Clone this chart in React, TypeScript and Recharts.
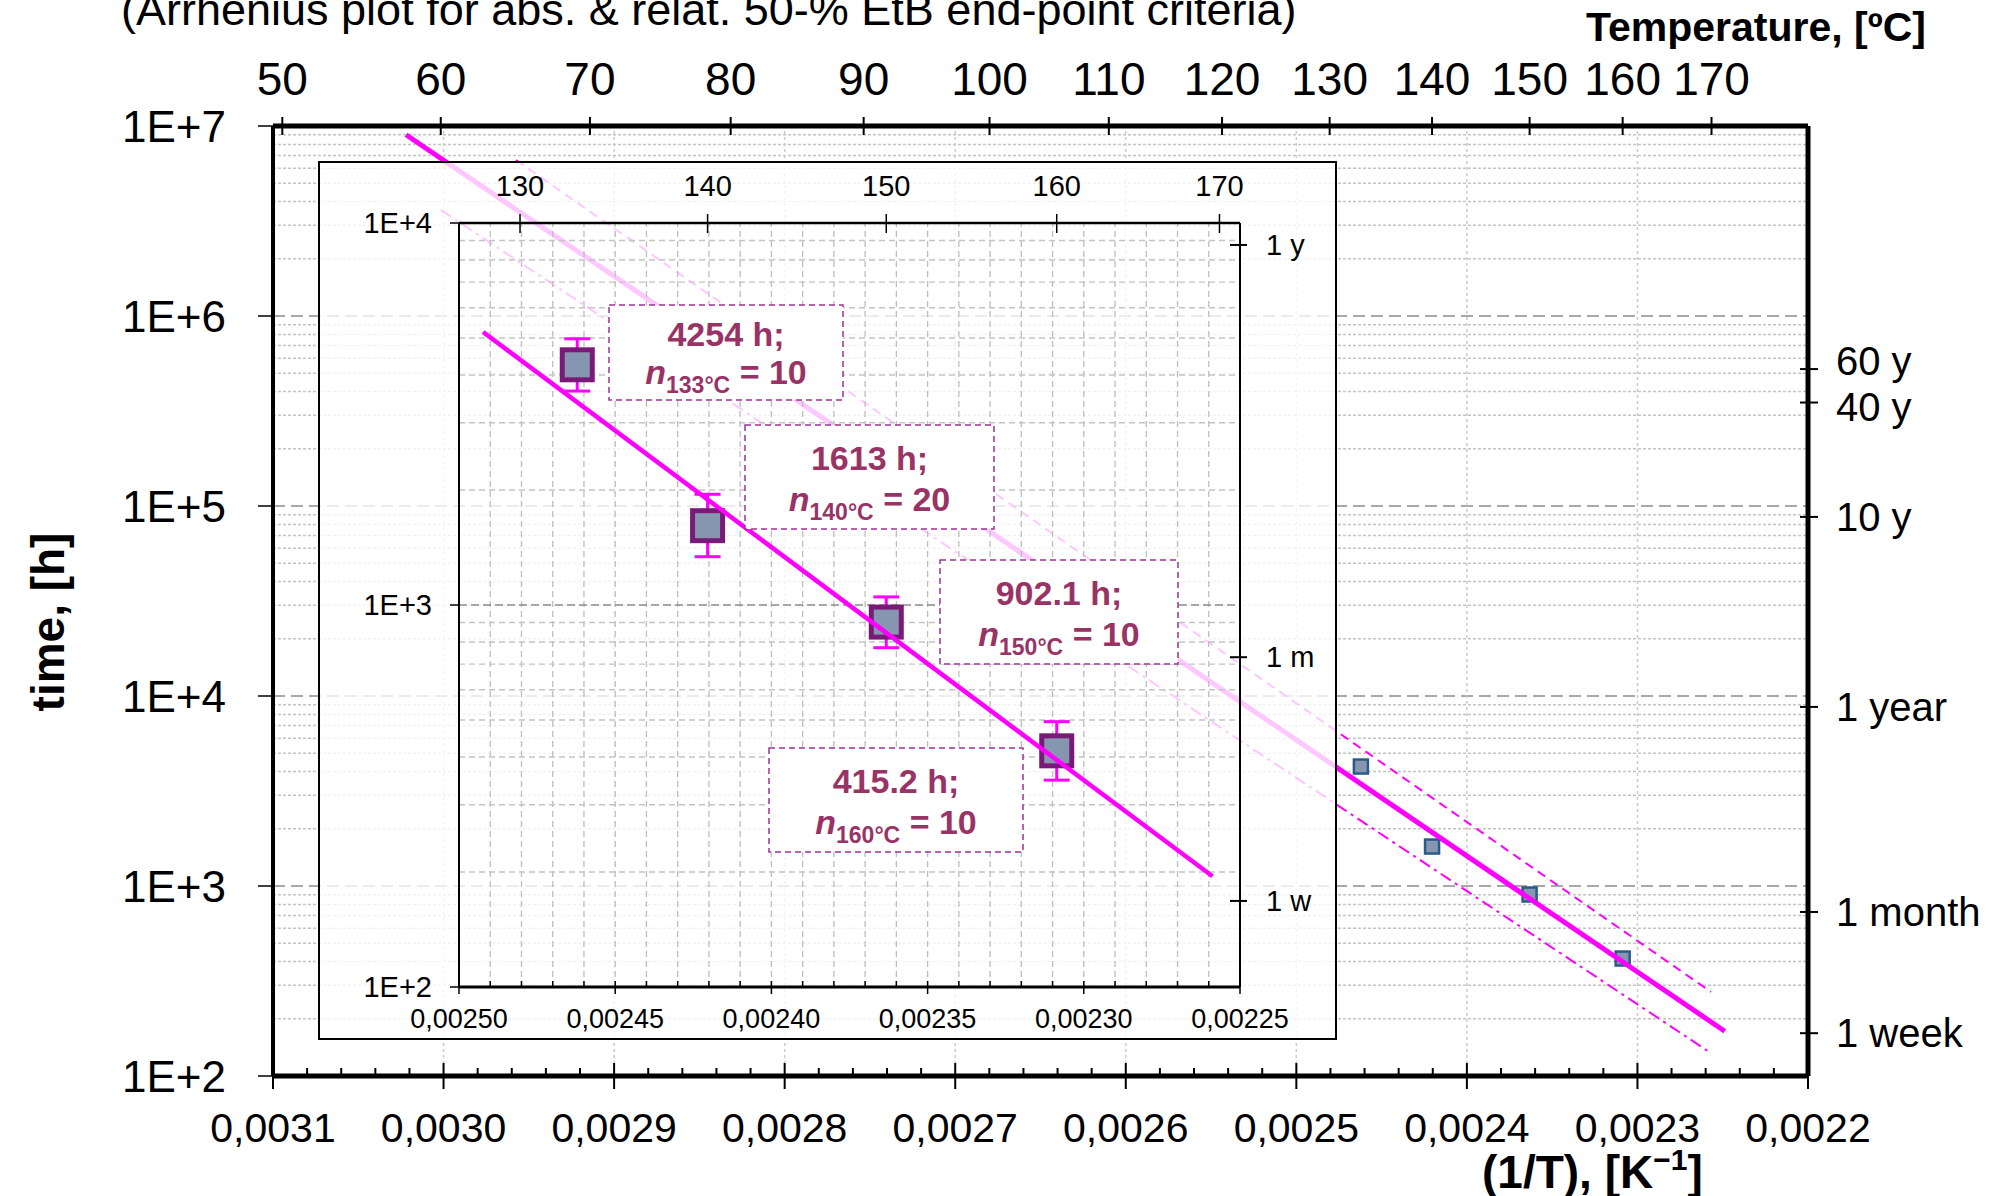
import React from 'react';
import {ComposedChart, Scatter, XAxis, YAxis, ReferenceLine, ErrorBar} from 'recharts';

const FONT = '"Liberation Sans", Arial, sans-serif';
const MAGENTA = '#FF00FF';
const NOTE = '#993366';

// main plot axes
const mainInvTTicks = [0.0031, 0.003, 0.0029, 0.0028, 0.0027, 0.0026, 0.0025, 0.0024, 0.0023, 0.0022];
const mainTempTicks = [50, 60, 70, 80, 90, 100, 110, 120, 130, 140, 150, 160, 170];
const mainDecades = [1e2, 1e3, 1e4, 1e5, 1e6, 1e7];
const lifeHours = [168, 730, 8760, 87600, 350400, 525600];
const lifeLabels = ['1 week', '1 month', '1 year', '10 y', '40 y', '60 y'];
const lifeLabelNudge = [0, 0, 0, 0, 4, -8];

// inset axes
const insetInvTTicks = [0.0025, 0.00245, 0.0024, 0.00235, 0.0023, 0.00225];
const insetTempTicks = [130, 140, 150, 160, 170];
const insetDecades = [1e2, 1e3, 1e4];
const insetLifeHours = [8760, 730, 168];
const insetLifeLabels = ['1 y', '1 m', '1 w'];

// measured end-point times
const testTemps = [133, 140, 150, 160];
const meanHours = [4254, 1613, 902.1, 415.2];
const upperHours = [4977, 1949, 1050, 495];
const lowerHours = [3631, 1338, 773, 348];
const sampleSizes = [10, 20, 10, 10];

// regression line + bands
const fitMain = [{x: 0.003022, y: 9.0e6}, {x: 0.0022488, y: 172}];
const bandUpper = [{x: 0.0029575, y: 6.62e6}, {x: 0.0022569, y: 277}];
const bandLower = [{x: 0.0030015, y: 3.61e6}, {x: 0.0022569, y: 132}];
const fitInset = [{x: 0.0024923, y: 5184}, {x: 0.0022588, y: 195}];

// annotation boxes (layout only)
const noteBoxes = [
    {x: 609, y: 305, w: 234, h: 95},
    {x: 745, y: 425, w: 249, h: 104},
    {x: 940, y: 560, w: 238, h: 104},
    {x: 769, y: 748, w: 254, h: 104},
];

const invT = (c: number) => 1 / (c + 273.15);
const isMult = (v: number, f: number) => Math.abs(v * f - Math.round(v * f)) < 1e-6;

const mainPoints = testTemps.map((t, i) => ({x: invT(t), y: meanHours[i]}));
const insetPoints = testTemps.map((t, i) => ({
    x: invT(t),
    y: meanHours[i],
    err: [meanHours[i] - lowerHours[i], upperHours[i] - meanHours[i]],
}));

const mainBottomTicks: number[] = [];
for (let k = 0; k <= 45; k++) mainBottomTicks.push(Math.round((0.0022 + k * 0.00002) * 1e7) / 1e7);
const insetBottomTicks: number[] = [];
for (let k = 0; k <= 25; k++) insetBottomTicks.push(Math.round((0.00225 + k * 0.00001) * 1e8) / 1e8);

const minorOf = (decades: number[]) =>
    decades.slice(0, -1).flatMap(d => [2, 3, 4, 5, 6, 7, 8, 9].map(m => d * m));

const NoShape = () => <g/>;
const SmallSquare = (p: any) => (
    <rect x={p.cx - 7} y={p.cy - 7} width={14} height={14} fill="#8796B0" stroke="#2A5A8A" strokeWidth={2.5}/>
);
const BigSquare = (p: any) => (
    <rect x={p.cx - 15} y={p.cy - 15} width={30} height={30} fill="#8796B0" stroke="#7A1A78" strokeWidth={5}/>
);

/* main axis ticks */
const MainBottomTick = ({x, y, payload}: any) => {
    const v = payload.value;
    const major = isMult(v, 1e4);
    return (
        <g>
            <line x1={x} x2={x} y1={major ? y - 13 : y - 8} y2={major ? y + 13 : y} stroke="#000" strokeWidth={2}/>
            {major && <text x={x} y={y + 66} textAnchor="middle" fontSize={41} fontFamily={FONT}>
                {v.toFixed(4).replace('.', ',')}</text>}
        </g>
    );
};
const MainTopTick = ({x, y, payload}: any) => (
    <g>
        <line x1={x} x2={x} y1={y - 9} y2={y + 9} stroke="#000" strokeWidth={2}/>
        <text x={x} y={y - 31} textAnchor="middle" fontSize={46} fontFamily={FONT}>
            {Math.round(1 / payload.value - 273.15)}</text>
    </g>
);
const MainLeftTick = ({x, y, payload}: any) => (
    <g>
        <line x1={x - 15} x2={x} y1={y} y2={y} stroke="#000" strokeWidth={1.5}/>
        <text x={x - 47} y={y + 16} textAnchor="end" fontSize={44} fontFamily={FONT}>
            {'1E+' + Math.round(Math.log10(payload.value))}</text>
    </g>
);
const MainRightTick = ({x, y, payload}: any) => {
    const i = lifeHours.indexOf(payload.value);
    return (
        <g>
            <line x1={x - 8} x2={x + 10} y1={y} y2={y} stroke="#000" strokeWidth={2}/>
            <text x={x + 28} y={y + 14 + lifeLabelNudge[i]} fontSize={40} fontFamily={FONT}>{lifeLabels[i]}</text>
        </g>
    );
};

/* inset axis ticks */
const InsetBottomTick = ({x, y, payload}: any) => {
    const v = payload.value;
    const major = isMult(v, 2e4);
    return (
        <g>
            <line x1={x} x2={x} y1={y - 6} y2={major ? y + 7 : y} stroke="#000" strokeWidth={1.5}/>
            {major && <text x={x} y={y + 41} textAnchor="middle" fontSize={27} fontFamily={FONT}>
                {v.toFixed(5).replace('.', ',')}</text>}
        </g>
    );
};
const InsetTopTick = ({x, y, payload}: any) => (
    <g>
        <line x1={x} x2={x} y1={y - 9} y2={y + 10} stroke="#000" strokeWidth={1.5}/>
        <text x={x} y={y - 27} textAnchor="middle" fontSize={29} fontFamily={FONT}>
            {Math.round(1 / payload.value - 273.15)}</text>
    </g>
);
const InsetLeftTick = ({x, y, payload}: any) => (
    <g>
        <line x1={x - 9} x2={x} y1={y} y2={y} stroke="#000" strokeWidth={1.5}/>
        <text x={x - 27} y={y + 10} textAnchor="end" fontSize={29} fontFamily={FONT}>
            {'1E+' + Math.round(Math.log10(payload.value))}</text>
    </g>
);
const InsetRightTick = ({x, y, payload}: any) => (
    <g>
        <line x1={x - 10} x2={x + 7} y1={y} y2={y} stroke="#000" strokeWidth={2}/>
        <text x={x + 26} y={y + 10} fontSize={29} fontFamily={FONT}>
            {insetLifeLabels[insetLifeHours.indexOf(payload.value)]}</text>
    </g>
);

const MainChart = () => (
    <ComposedChart width={2001} height={1196} margin={{top: 46, right: 43, bottom: 40, left: 173}}>
        <XAxis xAxisId="b" type="number" dataKey="x" domain={[0.0022, 0.0031]} reversed allowDataOverflow
               ticks={mainBottomTicks} interval={0} tickSize={0} tickMargin={0} height={80}
               axisLine={{stroke: '#000', strokeWidth: 5}} tick={<MainBottomTick/>}/>
        <XAxis xAxisId="t" orientation="top" type="number" dataKey="x" domain={[0.0022, 0.0031]} reversed
               allowDataOverflow ticks={mainTempTicks.map(invT)} interval={0} tickSize={0} tickMargin={0}
               height={80} axisLine={{stroke: '#000', strokeWidth: 5}} tick={<MainTopTick/>}/>
        <YAxis yAxisId="l" type="number" dataKey="y" scale="log" domain={[100, 1e7]} allowDataOverflow
               ticks={mainDecades} interval={0} tickSize={0} tickMargin={0} width={100}
               axisLine={{stroke: '#000', strokeWidth: 4}} tick={<MainLeftTick/>}/>
        <YAxis yAxisId="r" orientation="right" type="number" scale="log" domain={[100, 1e7]} allowDataOverflow
               ticks={lifeHours} interval={0} tickSize={0} tickMargin={0} width={150}
               axisLine={{stroke: '#000', strokeWidth: 5}} tick={<MainRightTick/>}/>

        {minorOf(mainDecades).map(v => (
            <ReferenceLine key={'mh' + v} xAxisId="b" yAxisId="l" y={v} stroke="#C4C4C4"
                           strokeWidth={1.5} strokeDasharray="3 2"/>
        ))}
        {mainDecades.slice(1, -1).map(v => (
            <ReferenceLine key={'mj' + v} xAxisId="b" yAxisId="l" y={v} stroke="#8C8C8C"
                           strokeWidth={1.5} strokeDasharray="12 6"/>
        ))}
        {mainInvTTicks.slice(1, -1).map(v => (
            <ReferenceLine key={'mv' + v} xAxisId="b" yAxisId="l" x={v} stroke="#CCCCCC"
                           strokeWidth={1.5} strokeDasharray="3 3"/>
        ))}

        <Scatter xAxisId="b" yAxisId="l" data={bandUpper} shape={NoShape} isAnimationActive={false}
                 line={{stroke: MAGENTA, strokeWidth: 2, strokeDasharray: '9 6'}}/>
        <Scatter xAxisId="b" yAxisId="l" data={bandLower} shape={NoShape} isAnimationActive={false}
                 line={{stroke: MAGENTA, strokeWidth: 2, strokeDasharray: '12 5 3 5'}}/>
        <Scatter xAxisId="b" yAxisId="l" data={mainPoints} shape={SmallSquare} isAnimationActive={false}/>
        <Scatter xAxisId="b" yAxisId="l" data={fitMain} shape={NoShape} isAnimationActive={false}
                 line={{stroke: MAGENTA, strokeWidth: 5}}/>
    </ComposedChart>
);

const InsetChart = () => (
    <ComposedChart width={1015} height={875} margin={{top: 20, right: 35, bottom: 11, left: 59}}>
        <XAxis xAxisId="b" type="number" dataKey="x" domain={[0.00225, 0.0025]} reversed allowDataOverflow
               ticks={insetBottomTicks} interval={0} tickSize={0} tickMargin={0} height={40}
               axisLine={{stroke: '#000', strokeWidth: 3}} tick={<InsetBottomTick/>}/>
        <XAxis xAxisId="t" orientation="top" type="number" dataKey="x" domain={[0.00225, 0.0025]} reversed
               allowDataOverflow ticks={insetTempTicks.map(invT)} interval={0} tickSize={0} tickMargin={0}
               height={40} axisLine={{stroke: '#000', strokeWidth: 2.5}} tick={<InsetTopTick/>}/>
        <YAxis yAxisId="l" type="number" dataKey="y" scale="log" domain={[100, 1e4]} allowDataOverflow
               ticks={insetDecades} interval={0} tickSize={0} tickMargin={0} width={80}
               axisLine={{stroke: '#000', strokeWidth: 2}} tick={<InsetLeftTick/>}/>
        <YAxis yAxisId="r" orientation="right" type="number" scale="log" domain={[100, 1e4]} allowDataOverflow
               ticks={insetLifeHours} interval={0} tickSize={0} tickMargin={0} width={60}
               axisLine={{stroke: '#000', strokeWidth: 2}} tick={<InsetRightTick/>}/>

        {insetBottomTicks.slice(1, -1).map(v => (
            <ReferenceLine key={'iv' + v} xAxisId="b" yAxisId="l" x={v} stroke="#BDBDBD"
                           strokeWidth={1.3} strokeDasharray="6 4"/>
        ))}
        {minorOf(insetDecades).map(v => (
            <ReferenceLine key={'ih' + v} xAxisId="b" yAxisId="l" y={v} stroke="#C4C4C4"
                           strokeWidth={1.3} strokeDasharray="6 4"/>
        ))}
        <ReferenceLine xAxisId="b" yAxisId="l" y={1000} stroke="#8C8C8C" strokeWidth={1.5} strokeDasharray="8 4"/>

        <Scatter xAxisId="b" yAxisId="l" data={insetPoints} shape={BigSquare} isAnimationActive={false}>
            <ErrorBar dataKey="err" direction="y" width={13} stroke={MAGENTA} strokeWidth={3}/>
        </Scatter>
        <Scatter xAxisId="b" yAxisId="l" data={fitInset} shape={NoShape} isAnimationActive={false}
                 line={{stroke: MAGENTA, strokeWidth: 4.5}}/>
    </ComposedChart>
);

const Notes = () => (
    <svg width={2001} height={1196} style={{position: 'absolute', left: 0, top: 0, pointerEvents: 'none'}}>
        <text x={121} y={25} fontSize={45} fontFamily={FONT}>
            (Arrhenius plot for abs. &amp; relat. 50-% EtB end-point criteria)</text>
        <text x={1926} y={41} fontSize={41} fontWeight="bold" fontFamily={FONT} textAnchor="end">
            Temperature, [ºC]</text>
        <text transform="translate(64,622) rotate(-90)" fontSize={46} fontWeight="bold" fontFamily={FONT}
              textAnchor="middle">time, [h]</text>
        <text x={1482} y={1188} fontSize={46} fontWeight="bold" fontFamily={FONT}>
            (1/T), [K<tspan fontSize={30} dy={-18}>−1</tspan><tspan dy={18}>]</tspan></text>

        {noteBoxes.map((b, i) => (
            <g key={i}>
                <rect x={b.x} y={b.y} width={b.w} height={b.h} fill="#FFFFFF" stroke="#A0309A"
                      strokeWidth={1.5} strokeDasharray="6 4"/>
                <text x={b.x + b.w / 2} y={b.y + b.h * 0.43} textAnchor="middle" fontSize={34}
                      fontWeight="bold" fontFamily={FONT} fill={NOTE}>{meanHours[i]} h;</text>
                <text x={b.x + b.w / 2} y={b.y + b.h * 0.83} textAnchor="middle" fontSize={34}
                      fontWeight="bold" fontFamily={FONT} fill={NOTE}>
                    <tspan fontStyle="italic">n</tspan>
                    <tspan fontSize={23} dy={9}>{testTemps[i]}°C</tspan>
                    <tspan dy={-9}> = {sampleSizes[i]}</tspan>
                </text>
            </g>
        ))}
    </svg>
);

export default function App() {
    return (
        <div style={{position: 'absolute', left: 0, top: 0, width: 2001, height: 1196, background: '#fff',
            overflow: 'hidden'}}>
            <MainChart/>
            <div style={{position: 'absolute', left: 320, top: 163, width: 1015, height: 875,
                background: 'rgba(255,255,255,0.78)', outline: '2px solid #000'}}>
                <InsetChart/>
            </div>
            <Notes/>
        </div>
    );
}
